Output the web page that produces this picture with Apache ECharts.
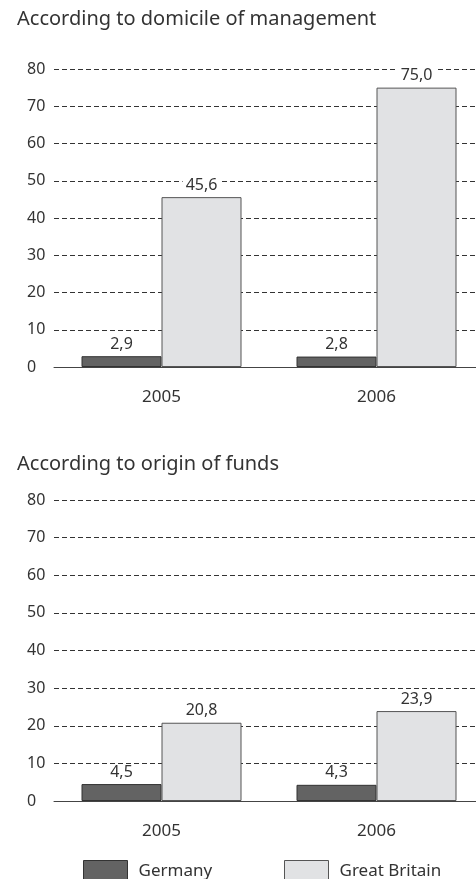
<!DOCTYPE html>
<html>
<head>
<meta charset="utf-8">
<script src="https://cdn.jsdelivr.net/npm/echarts@6/dist/echarts.min.js"></script>
<style>
  html, body { margin: 0; padding: 0; background: #fff; }
  #chart { width: 476px; height: 879px; }
</style>
</head>
<body>
<div id="chart"></div>
<script>
	// data
	var years = ['2005', '2006'];
	var domicileGermany = [2.9, 2.8];
	var domicileBritain = [45.6, 75.0];
	var originGermany = [4.5, 4.3];
	var originBritain = [20.8, 23.9];
	var seriesNames = ['Germany', 'Great Britain'];
	var titles = ['According to domicile of management', 'According to origin of funds'];

	var font = 'Noto Sans';
	var textColor = '#333';
	var darkFill = '#636363';
	var lightFill = '#e1e2e4';

	let chart = echarts.init(document.getElementById('chart'));

	function fmt(p) {
		return p.value.toFixed(1).replace('.', ',');
	}

	function xAxisFor(idx) {
		return {
			type: 'category',
			gridIndex: idx,
			data: years,
			axisTick: { show: false },
			axisLine: { lineStyle: { color: '#444', width: 1 } },
			axisLabel: { color: textColor, fontFamily: font, fontSize: 17, margin: 22 }
		};
	}

	function yAxisFor(idx) {
		return {
			type: 'value',
			gridIndex: idx,
			min: 0,
			max: 80,
			interval: 10,
			axisLine: { show: false },
			axisTick: { show: false },
			axisLabel: { color: textColor, fontFamily: font, fontSize: 16, align: 'left', margin: 27 },
			splitLine: { lineStyle: { color: '#333', width: 1, type: [5, 3] } }
		};
	}

	function barSeries(name, data, idx, fill, border) {
		return {
			name: name,
			type: 'bar',
			xAxisIndex: idx,
			yAxisIndex: idx,
			data: data,
			barGap: '0%',
			barWidth: 80,
			itemStyle: { color: fill, borderColor: border, borderWidth: 1 },
			label: {
				show: true,
				position: 'top',
				distance: 4,
				formatter: fmt,
				color: textColor,
				fontFamily: font,
				fontSize: 16,
				backgroundColor: '#fff',
				padding: [0, 3]
			}
		};
	}

	var option = {
		backgroundColor: '#fff',
		animation: false,
		title: [
			{ text: titles[0], left: 12, top: 4, textStyle: { color: textColor, fontFamily: font, fontSize: 20, fontWeight: 'normal' } },
			{ text: titles[1], left: 12, top: 449, textStyle: { color: textColor, fontFamily: font, fontSize: 20, fontWeight: 'normal' } }
		],
		legend: [
			{
				data: [seriesNames[0]], left: 78, top: 855, icon: 'rect', itemWidth: 44, itemHeight: 22, itemGap: 0,
				itemStyle: { borderColor: '#333', borderWidth: 1 },
				textStyle: { color: textColor, fontFamily: font, fontSize: 17, padding: [0, 0, 0, 6] }
			},
			{
				data: [seriesNames[1]], left: 279, top: 855, icon: 'rect', itemWidth: 44, itemHeight: 22, itemGap: 0,
				itemStyle: { borderColor: '#555', borderWidth: 1 },
				textStyle: { color: textColor, fontFamily: font, fontSize: 17, padding: [0, 0, 0, 6] }
			}
		],
		grid: [
			{ left: 54, width: 430, top: 69, height: 298, outerBoundsMode: 'none' },
			{ left: 54, width: 430, top: 500, height: 301, outerBoundsMode: 'none' }
		],
		xAxis: [xAxisFor(0), xAxisFor(1)],
		yAxis: [yAxisFor(0), yAxisFor(1)],
		series: [
			barSeries(seriesNames[0], domicileGermany, 0, darkFill, '#333'),
			barSeries(seriesNames[1], domicileBritain, 0, lightFill, '#555'),
			barSeries(seriesNames[0], originGermany, 1, darkFill, '#333'),
			barSeries(seriesNames[1], originBritain, 1, lightFill, '#555')
		]
	};
	chart.setOption(option, true);
</script>
</body>
</html>
